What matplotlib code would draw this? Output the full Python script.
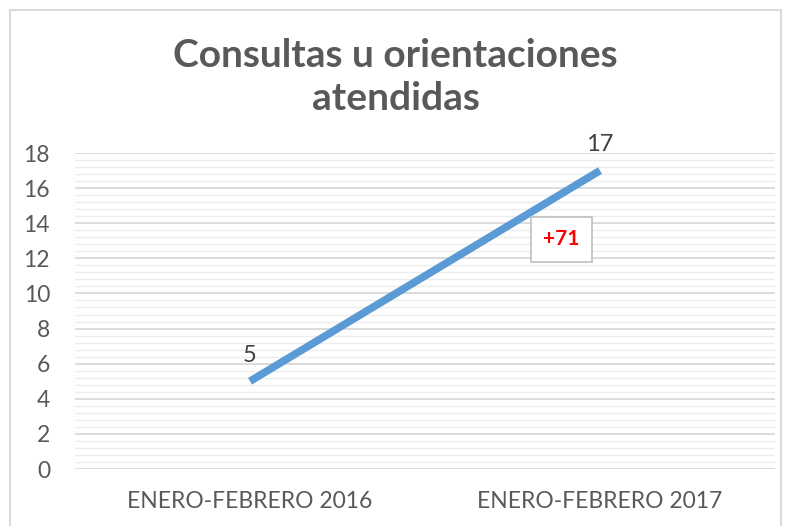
import matplotlib
matplotlib.use("Agg")
import matplotlib.pyplot as plt
import numpy as np
from matplotlib.patches import Rectangle

categories = ["ENERO-FEBRERO 2016", "ENERO-FEBRERO 2017"]
values = [5, 17]
change_label = "+71"
title = "Consultas u orientaciones\natendidas"

plt.rcParams["font.family"] = ["Lato", "DejaVu Sans"]

fig = plt.figure(figsize=(7.91, 5.26), dpi=100)
fig.patches.append(Rectangle((10 / 791, -0.01), 771 / 791, 1 - 10 / 526 + 0.01,
                             transform=fig.transFigure, fill=False,
                             edgecolor="#D9D9D9", linewidth=1.5))
ax = fig.add_axes([75 / 791, 1 - 469 / 526, 700 / 791, (469 - 153) / 526])

x = np.arange(len(categories))
ax.plot(x, values, color="#5B9BD5", linewidth=5.5, solid_capstyle="butt")
for xi, v in zip(x, values):
    ax.annotate(str(v), (xi, v), xytext=(0, 11), textcoords="offset points",
                ha="center", va="bottom", fontsize=17, color="#404040")

ax.text(0.89, 13.1, change_label, ha="center", va="center", fontsize=15,
        fontweight="bold", color="#FF0000",
        bbox=dict(boxstyle="square,pad=0.6", facecolor="white", edgecolor="#BFBFBF",
                  linewidth=1.2))

ax.set_xlim(-0.5, 1.5)
ax.set_ylim(0, 18)
ax.set_yticks(np.arange(0, 19, 2))
ax.set_yticks(np.arange(0, 18.01, 0.4), minor=True)
ax.set_xticks(x)
ax.set_xticklabels(categories)
ax.tick_params(axis="both", length=0, labelsize=16.5, labelcolor="#595959")
ax.tick_params(axis="y", which="minor", length=0)
ax.tick_params(axis="y", pad=18)
ax.tick_params(axis="x", pad=16)
ax.grid(axis="y", which="major", color="#D9D9D9", linewidth=1.3)
ax.grid(axis="y", which="minor", color="#EDEDED", linewidth=1.0)
ax.set_axisbelow(True)
for s in ax.spines.values():
    s.set_visible(False)

fig.text(0.5, 1 - 77 / 526, title, ha="center", va="center", fontsize=28,
         fontweight="bold", color="#595959", linespacing=1.25)

fig.savefig("out.png", dpi=100)
